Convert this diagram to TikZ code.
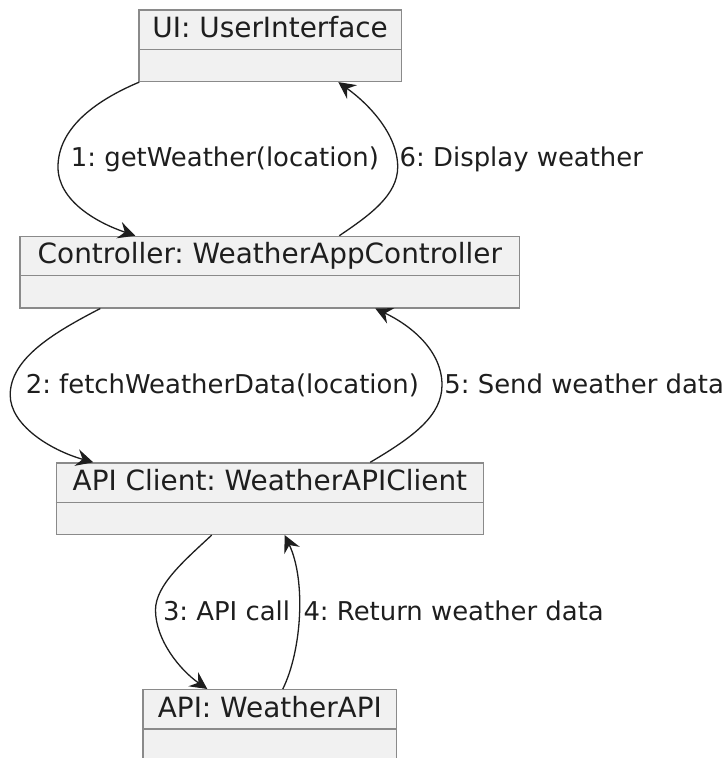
\documentclass[tikz,border=0pt]{standalone}
\usepackage{fontspec}
\setmainfont{DejaVu Sans}
\usetikzlibrary{arrows.meta}
\definecolor{boxfill}{HTML}{F1F1F1}
\definecolor{boxline}{HTML}{8A8A8A}
\definecolor{ink}{HTML}{1E1E1E}
\frenchspacing
\begin{document}
\begin{tikzpicture}[x=1pt,y=-1pt,
  objbox/.style={draw=boxline, fill=boxfill, line width=1.4pt, inner sep=0pt,
    anchor=north west, minimum height=71.4pt},
  objtitle/.style={anchor=base, inner sep=0pt, text=ink,
    font=\fontsize{27.9}{33}\selectfont},
  divider/.style={draw=boxline, line width=1.4pt},
  msg/.style={draw=ink, line width=1.3pt,
    -{Stealth[length=17pt,width=17pt,inset=6pt]}},
  lbl/.style={anchor=base west, inner sep=0pt, text=ink,
    font=\fontsize{25.9}{31}\selectfont}]
\useasboundingbox (0,0) rectangle (725,758);
\clip (0,0) rectangle (725,758);

% object boxes
\node[objbox, minimum width=262.4pt] (ui) at (138.3,9.3) {};
\node[objbox, minimum width=499.7pt] (ctrl) at (19.3,235.7) {};
\node[objbox, minimum width=427pt] (cli) at (55.7,462.3) {};
\node[objbox, minimum width=253.7pt] (api) at (142.3,689) {};

% name compartments
\foreach \b in {ui,ctrl,cli,api}
  \draw[divider] ([yshift=-40pt]\b.north west) -- ([yshift=-40pt]\b.north east);

\node[objtitle] (ui-t) at ([yshift=-28pt]ui.north) {UI: UserInterface};
\node[objtitle] (ctrl-t) at ([yshift=-28pt]ctrl.north) {Controller: WeatherAppController};
\node[objtitle] (cli-t) at ([yshift=-28pt]cli.north) {API Client: WeatherAPIClient};
\node[objtitle] (api-t) at ([yshift=-28pt]api.north) {API: WeatherAPI};

% messages
\draw[msg] ([xshift=1pt]ui.south west) .. controls (92,102) and (58,130) .. (58,167)
  .. controls (58,200) and (95,222) .. ([xshift=116pt]ctrl.north west);
\draw[msg] ([xshift=320pt]ctrl.north west) .. controls (370,215) and (397.7,195) .. (397.7,167)
  .. controls (397.7,135) and (370,105) .. ([xshift=200pt]ui.south west);

\draw[msg] ([xshift=81pt]ctrl.south west) .. controls (55,332) and (10.2,358) .. (10.2,395)
  .. controls (10.2,425) and (50,450) .. ([xshift=37.5pt]cli.north west);
\draw[msg] ([xshift=314.5pt]cli.north west) .. controls (415,436) and (442,415) .. (442,385)
  .. controls (442,350) and (410,325) .. ([xshift=356pt]ctrl.south west);

\draw[msg] ([xshift=156pt]cli.south west) .. controls (185,560) and (155.5,585) .. (155.5,610)
  .. controls (155.5,640) and (180,670) .. ([xshift=65pt]api.north west);
\draw[msg] ([xshift=140.5pt]api.north west) .. controls (302,650) and (306,580) .. ([xshift=229pt]cli.south west);

% message labels
\node[lbl] (l1) at (70.7,166.5) {1: getWeather(location)};
\node[lbl] (l6) at (399.5,166.5) {6: Display weather};
\node[lbl] (l2) at (25.6,393) {2: fetchWeatherData(location)};
\node[lbl] (l5) at (444.2,393) {5: Send weather data};
\node[lbl] (l3) at (162.8,620) {3: API call};
\node[lbl] (l4) at (303.3,620) {4: Return weather data};
\end{tikzpicture}
\end{document}
